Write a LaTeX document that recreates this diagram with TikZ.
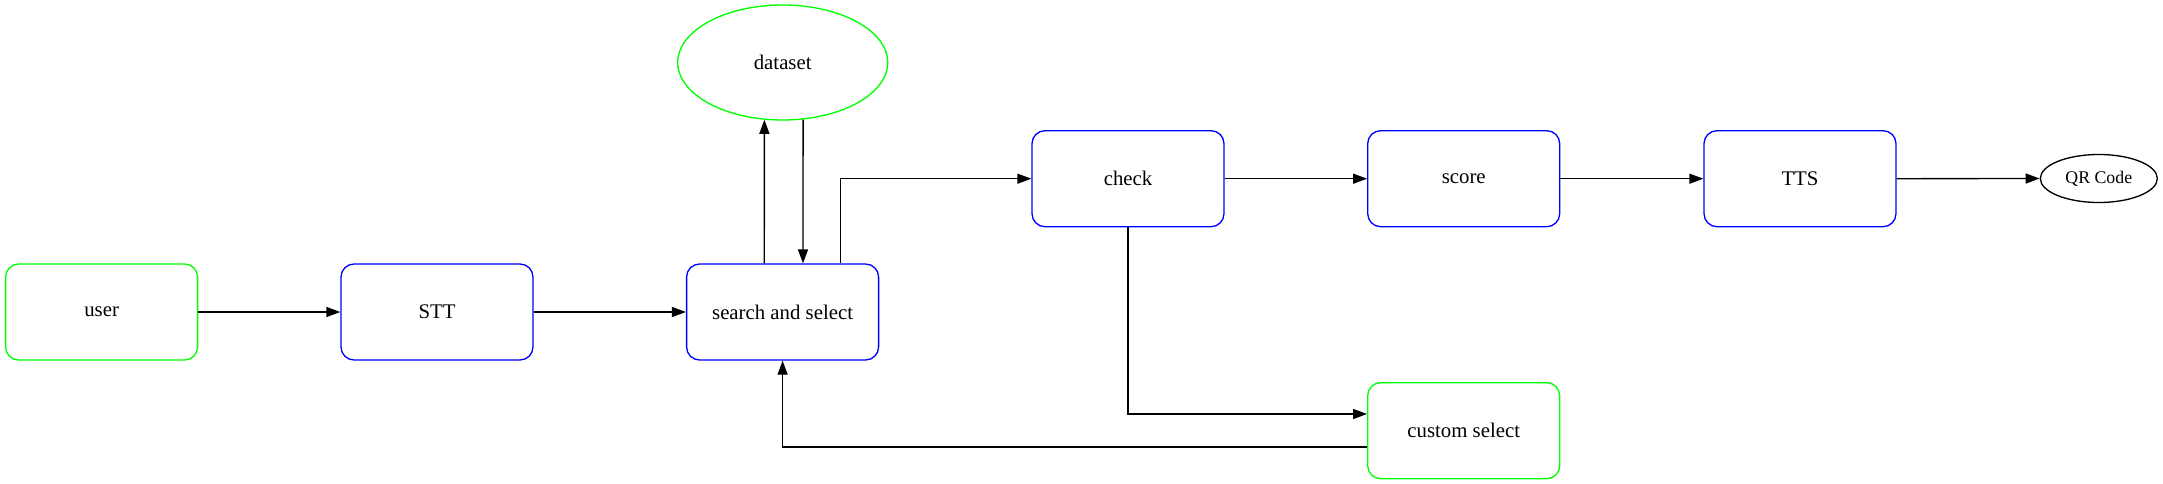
\documentclass[tikz,border=0pt]{standalone}
\usepackage{fontspec}
\setmainfont{Liberation Serif}
\usetikzlibrary{arrows.meta,shapes.geometric}
\definecolor{gvgreen}{RGB}{0,255,0}
\definecolor{gvblue}{RGB}{0,0,255}
\tikzset{
  gvbox/.style={draw, rounded corners=13pt, minimum width=192pt, minimum height=96pt, inner sep=0pt, line width=1.33pt, font=\fontsize{20.8}{24}\selectfont},
  bluebox/.style={gvbox, draw=gvblue},
  greenbox/.style={gvbox, draw=gvgreen},
  arr/.style={-{Triangle[length=14pt,width=10pt]}, line width=1.33pt, black},
}
\begin{document}
\begin{tikzpicture}[x=1pt,y=-1pt]
\useasboundingbox (0,0) rectangle (2163,484);
\node[greenbox] (user) at (101.6,312) {user};
\node[bluebox] (stt) at (437,312) {STT};
\node[bluebox] (ss) at (782.6,312) {search and select};
\node[draw=gvgreen, ellipse, line width=1.33pt, minimum width=210pt, minimum height=115pt, inner sep=0pt, font=\fontsize{20.8}{24}\selectfont] (ds) at (782.7,62.5) {dataset};
\node[bluebox] (check) at (1128,178.7) {check};
\node[bluebox] (score) at (1463.7,178.7) {score};
\node[bluebox] (tts) at (1800,178.7) {TTS};
\node[draw=black, ellipse, line width=1.33pt, minimum width=117pt, minimum height=48pt, inner sep=0pt, font=\fontsize{17.8}{21}\selectfont] (qr) at (2098.8,178.5) {QR Code};
\node[greenbox] (cs) at (1463.7,430.7) {custom select};

\draw[arr] (user.east) -- (stt.west);
\draw[arr] (stt.east) -- (ss.west);
\draw[arr] ([xshift=-18.3pt]ss.north) -- ([xshift=-18.3pt,yshift=0.9pt]ds.south);
\draw[arr] ([xshift=20.4pt,yshift=1pt]ds.south) -- ([xshift=20.4pt]ss.north);
\draw[arr] ([xshift=58pt]ss.north) |- (check.west);
\draw[arr] (check.east) -- (score.west);
\draw[arr] (score.east) -- (tts.west);
\draw[arr] (tts.east) -- (qr.west);
\draw[arr] (check.south) |- ([yshift=16.7pt]cs.west);
\draw[arr] ([yshift=-16.3pt]cs.west) -| (ss.south);
\end{tikzpicture}
\end{document}
